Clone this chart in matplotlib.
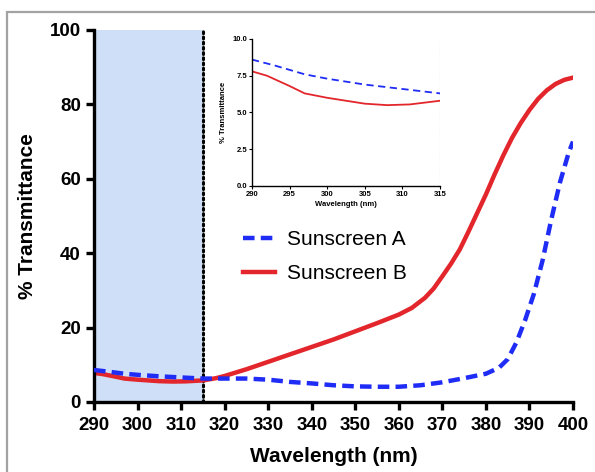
import matplotlib
matplotlib.use("Agg")
import matplotlib.pyplot as plt
from matplotlib.patches import Rectangle

plt.rcParams['font.family'] = ['Liberation Sans', 'DejaVu Sans']

# Sunscreen A (blue, dashed)
wl_a = [290, 293, 297, 300, 305, 310, 315, 320, 325, 330, 335, 340, 345, 350, 355,
        360, 365, 370, 375, 380, 383, 385, 387, 389, 391, 393, 395, 397, 399, 400]
tr_a = [8.6, 8.2, 7.6, 7.3, 6.9, 6.6, 6.3, 6.3, 6.3, 6.0, 5.4, 5.0, 4.5, 4.2, 4.1,
        4.1, 4.5, 5.3, 6.4, 7.6, 9.2, 11.5, 16, 22, 29, 38, 49, 59, 67, 70]

# Sunscreen B (red, solid)
wl_b = [290, 292, 295, 297, 300, 305, 308, 311, 315, 318, 320, 325, 330, 335, 340,
        345, 350, 355, 360, 363, 366, 368, 370, 372, 374, 376, 378, 380, 382, 384,
        386, 388, 390, 392, 394, 396, 398, 400]
tr_b = [7.8, 7.5, 6.8, 6.3, 6.0, 5.6, 5.5, 5.55, 5.8, 6.4, 7.0, 8.8, 10.8, 12.8, 14.8,
        16.8, 19.0, 21.2, 23.5, 25.3, 28.0, 30.5, 33.8, 37.2, 41, 45.8, 50.8, 55.8,
        61.2, 66.3, 71, 75, 78.5, 81.5, 83.8, 85.5, 86.6, 87.2]

labels = ['Sunscreen A', 'Sunscreen B']
main_xticks = list(range(290, 401, 10))
main_yticks = [0, 20, 40, 60, 80, 100]
inset_xticks = [290, 295, 300, 305, 310, 315]
inset_yticks = [0.0, 2.5, 5.0, 7.5, 10.0]

blue = '#1f2cf5'
red = '#e3262b'

fig = plt.figure(figsize=(5.95, 4.72), dpi=100)

# grey frame around figure
fig.patches.append(Rectangle((7 / 595, -0.1), 1.2, 1 - 12 / 472 + 0.1,
                             transform=fig.transFigure, fill=False,
                             edgecolor='#a3a3a3', lw=1.6, clip_on=False))

ax = fig.add_axes([94 / 595, 70 / 472, 479 / 595, 372 / 472])
ax.axvspan(290, 315, color='#cfdff7', lw=0, zorder=0)
ax.plot([315, 315], [0, 100], color='black', lw=2.2, ls=(0, (0.6, 1.1)),
        dash_capstyle='round', zorder=1)
la, = ax.plot(wl_a, tr_a, color=blue, lw=3.2, dashes=(2.6, 1.4), zorder=3)
lb, = ax.plot(wl_b, tr_b, color=red, lw=3.2, zorder=2)
ax.set_xlim(290, 400)
ax.set_ylim(0, 100)
ax.set_xticks(main_xticks)
ax.set_yticks(main_yticks)
for s in ['top', 'right']:
    ax.spines[s].set_visible(False)
for s in ['left', 'bottom']:
    ax.spines[s].set_linewidth(2.4)
ax.tick_params(width=2.4, length=6, labelsize=13.5)
ax.tick_params(axis='x', pad=5)
for t in ax.get_xticklabels() + ax.get_yticklabels():
    t.set_fontweight('bold')
ax.set_xlabel('Wavelength (nm)', fontsize=15, fontweight='bold', labelpad=9)
ax.set_ylabel('% Transmittance', fontsize=15, fontweight='bold', labelpad=9)

leg = fig.legend([la, lb], labels, loc='upper left',
                 bbox_to_anchor=(243 / 595, 1 - 230 / 472), frameon=False,
                 fontsize=15, handlelength=1.55, handletextpad=0.55,
                 labelspacing=0.72, borderpad=0, borderaxespad=0)

# inset
ins = fig.add_axes([252 / 595, 286 / 472, 188 / 595, 147 / 472])
ins.plot([315, 315], [0, 10], color='#9a9a9a', lw=0.8, ls=(0, (1, 1)))
ins.plot(wl_a, tr_a, color=blue, lw=1.3, dashes=(4, 2.5))
ins.plot(wl_b, tr_b, color=red, lw=1.3)
ins.set_xlim(290, 315)
ins.set_ylim(0, 10)
ins.set_xticks(inset_xticks)
ins.set_yticks(inset_yticks)
ins.set_yticklabels(['%.1f' % v for v in inset_yticks])
for s in ['top', 'right']:
    ins.spines[s].set_visible(False)
for s in ['left', 'bottom']:
    ins.spines[s].set_linewidth(1.0)
ins.tick_params(width=0.8, length=2, labelsize=5.5, pad=1.5)
for t in ins.get_xticklabels() + ins.get_yticklabels():
    t.set_fontweight('bold')
ins.set_xlabel('Wavelength (nm)', fontsize=5.5, fontweight='bold', labelpad=2)
ins.set_ylabel('% Transmittance', fontsize=5.5, fontweight='bold', labelpad=4)

fig.savefig('out.png', dpi=100)
